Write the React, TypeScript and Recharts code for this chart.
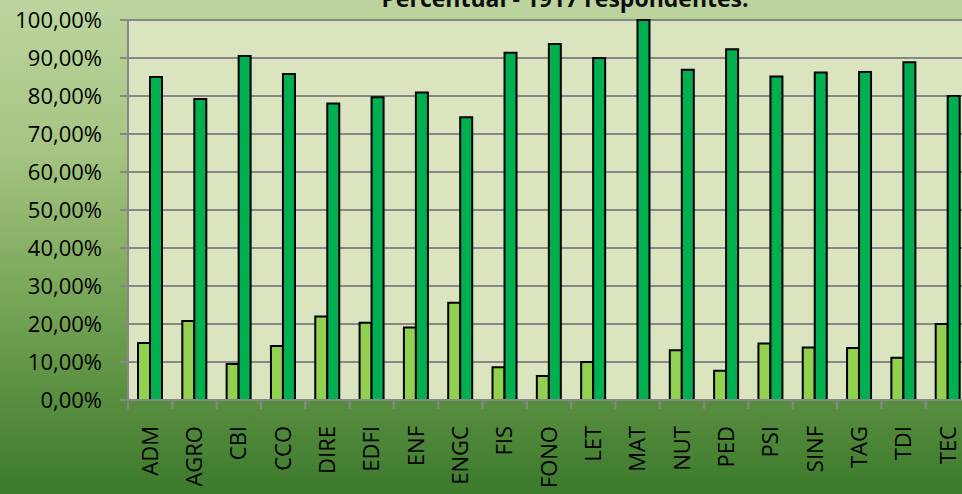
import React from "react";
import { BarChart, Bar, XAxis, YAxis, CartesianGrid } from "recharts";

// Cursos (eixo das categorias)
const cursos = [
  "ADM", "AGRO", "CBI", "CCO", "DIRE", "EDFI", "ENF", "ENGC", "FIS", "FONO",
  "LET", "MAT", "NUT", "PED", "PSI", "SINF", "TAG", "TDI", "TEC",
];

// Percentuais
const respostasNao = [
  15.0, 20.8, 9.5, 14.2, 22.0, 20.3, 19.1, 25.6, 8.6, 6.3,
  10.0, 0, 13.1, 7.7, 14.9, 13.8, 13.7, 11.1, 20.0,
];
const respostasSim = [
  85.0, 79.2, 90.5, 85.8, 78.0, 79.7, 80.9, 74.4, 91.4, 93.7,
  90.0, 100.0, 86.9, 92.3, 85.1, 86.2, 86.3, 88.9, 80.0,
];

const yTicks = [0, 10, 20, 30, 40, 50, 60, 70, 80, 90, 100];

const titulo = "Percentual - 1917  respondentes.";

const data = cursos.map((curso, i) => ({
  curso,
  nao: respostasNao[i],
  sim: respostasSim[i],
}));

const FONT = "'Open Sans', 'Liberation Sans', sans-serif";
const GRID = "#878787";

const fmtPct = (v: number) => v.toFixed(2).replace(".", ",") + "%";

// tick do eixo X: traço na divisa entre categorias + rótulo girado
function CursoTick(props: any) {
  const { x, y, payload } = props;
  const half = payload?.offset ?? 22;
  const lx = x - half;
  return (
    <g>
      <line x1={lx} y1={y - 26} x2={lx} y2={y - 17} stroke={GRID} strokeWidth={2} />
      <text
        x={x}
        y={y}
        transform={`rotate(-90, ${x}, ${y})`}
        textAnchor="end"
        dy="0.35em"
        fontSize={22}
        fontFamily={FONT}
        fill="#000"
      >
        {payload.value}
      </text>
    </g>
  );
}

export default function App() {
  return (
    <div
      style={{
        position: "relative",
        width: 962,
        height: 494,
        overflow: "hidden",
        background:
          "linear-gradient(to bottom, #bdd49f 0%, #a6c583 30%, #78a657 60%, #5a8f40 80%, #3c7a2c 100%)",
      }}
    >
      <style>{"body{margin:0}"}</style>
      <BarChart
        width={972}
        height={494}
        data={data}
        margin={{ top: 20, right: 2, bottom: 0, left: 0 }}
        barGap={0}
      >
        <CartesianGrid
          vertical={false}
          stroke={GRID}
          strokeWidth={2}
          fill="#dae5c0"
          fillOpacity={1}
        />
        <XAxis
          dataKey="curso"
          interval={0}
          height={94}
          axisLine={{ stroke: GRID, strokeWidth: 2 }}
          tickLine={false}
          tickSize={9}
          tickMargin={17}
          tick={<CursoTick />}
        />
        <YAxis
          width={128}
          domain={[0, 100]}
          ticks={yTicks}
          interval={0}
          tickFormatter={fmtPct}
          axisLine={{ stroke: GRID, strokeWidth: 2 }}
          tickLine={{ stroke: GRID, strokeWidth: 2 }}
          tickSize={8}
          tickMargin={18}
          tick={{ fill: "#000", fontSize: 22, fontFamily: FONT }}
        />
        <Bar
          dataKey="nao"
          fill="#92d050"
          stroke="#000"
          strokeWidth={2}
          barSize={12}
          isAnimationActive={false}
        />
        <Bar
          dataKey="sim"
          fill="#00b050"
          stroke="#000"
          strokeWidth={2}
          barSize={12}
          isAnimationActive={false}
        />
      </BarChart>
      <svg
        width={962}
        height={20}
        style={{ position: "absolute", left: 0, top: 0 }}
      >
        <text
          x={565}
          y={7}
          textAnchor="middle"
          fontSize={23}
          fontWeight={700}
          fontFamily={FONT}
          fill="#0d0d0d"
        >
          {titulo}
        </text>
      </svg>
    </div>
  );
}
